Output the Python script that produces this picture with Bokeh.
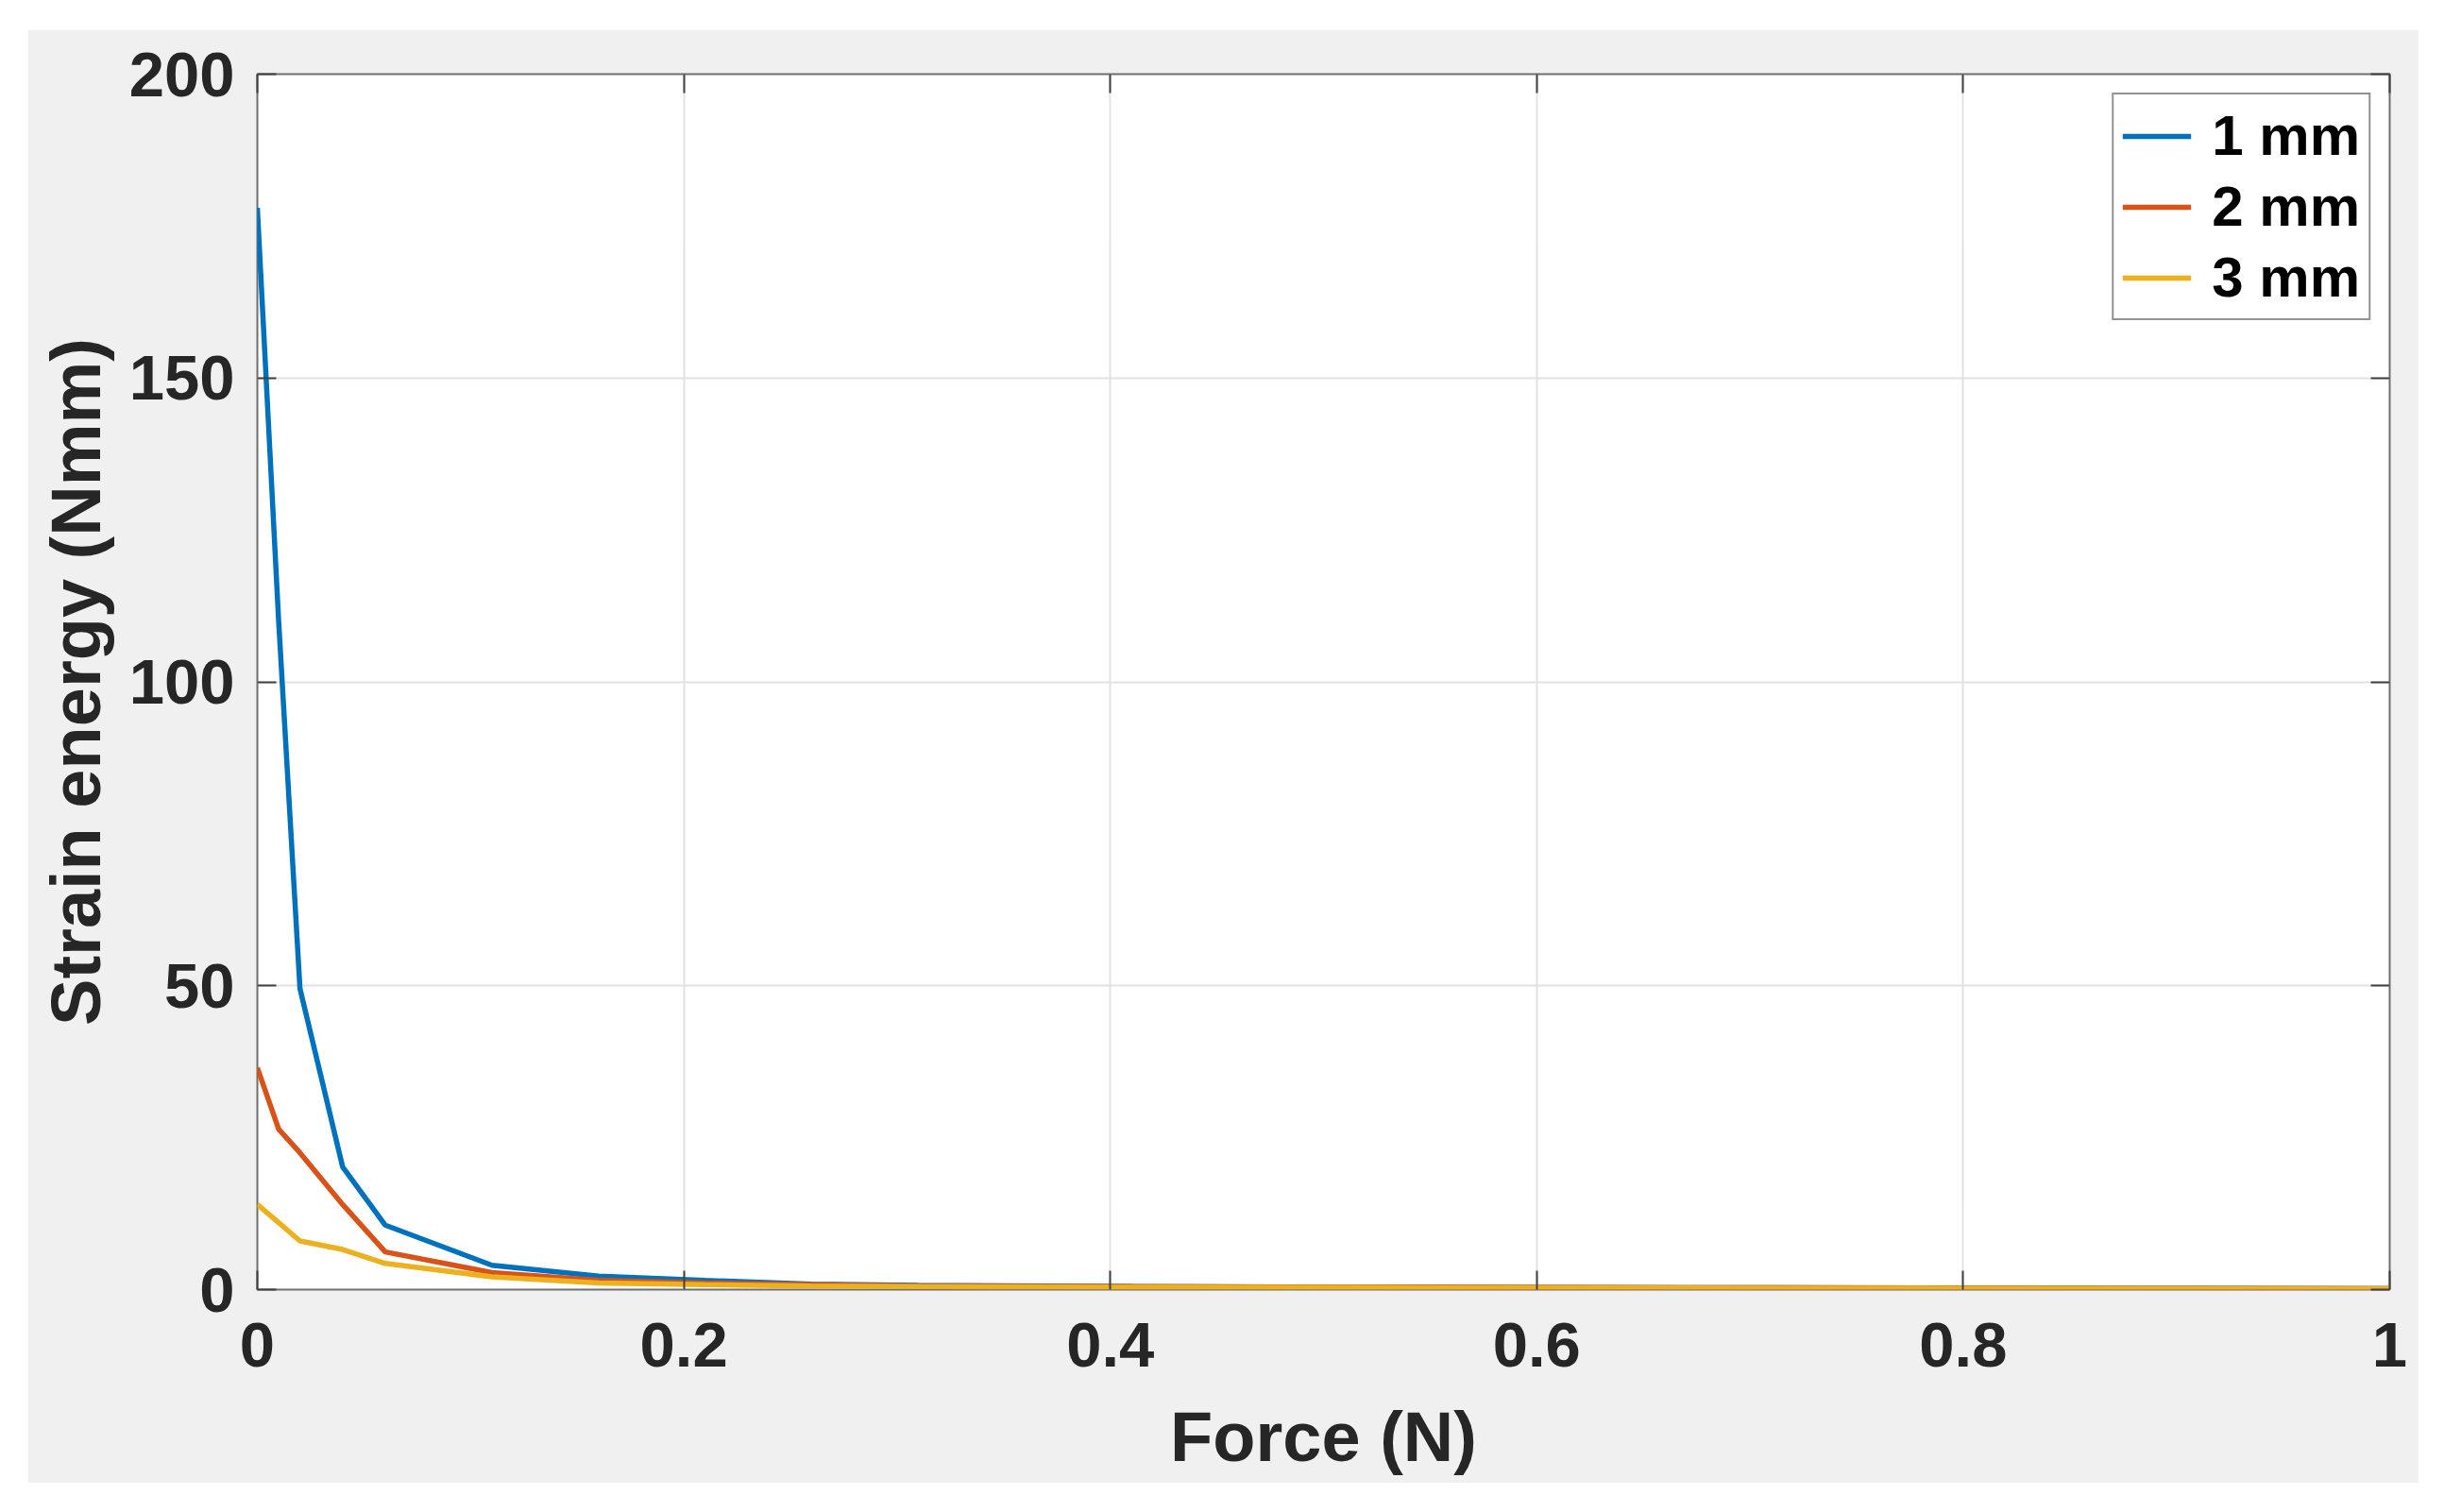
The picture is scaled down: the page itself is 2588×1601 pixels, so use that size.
from bokeh.plotting import figure
from bokeh.models import Range1d, FixedTicker, LinearAxis, Legend, LegendItem, NumeralTickFormatter, CustomJSTickFormatter
from bokeh.embed import file_html
from bokeh.resources import INLINE

# ---- data ----
force = [0, 0.01, 0.02, 0.04, 0.06, 0.11, 0.16, 0.21, 0.26, 0.31, 0.41, 0.51, 0.61, 0.71, 0.81, 0.91, 1.0]
energy_1mm = [178, 110, 49.5, 20.2, 10.6, 4.0, 2.2, 1.5, 0.9, 0.7, 0.5, 0.4, 0.35, 0.3, 0.25, 0.2, 0.15]
energy_2mm = [36.5, 26.4, 22.5, 14.0, 6.2, 2.8, 1.5, 1.1, 0.8, 0.6, 0.5, 0.4, 0.35, 0.3, 0.25, 0.2, 0.15]
energy_3mm = [14.0, 11.0, 8.0, 6.6, 4.3, 2.1, 1.1, 0.8, 0.6, 0.5, 0.4, 0.35, 0.3, 0.25, 0.2, 0.15, 0.1]
series_labels = ["1 mm", "2 mm", "3 mm"]
series_colors = ["#0072BD", "#D95319", "#EDB120"]
x_ticks = [0, 0.2, 0.4, 0.6, 0.8, 1.0]
y_ticks = [0, 50, 100, 150, 200]

FONT = "Liberation Sans"
TXT = "#262626"
AXC = "#6e6e6e"
TICKC = "#404040"

p = figure(width=2532, height=1539, output_backend="svg", toolbar_location=None,
           x_range=Range1d(0, 1), y_range=Range1d(0, 200),
           margin=(31, 0, 0, 29),
           min_border_left=243, min_border_right=31, min_border_top=47, min_border_bottom=205)

p.background_fill_color = "white"
p.border_fill_color = "#f0f0f0"
p.outline_line_color = AXC
p.outline_line_width = 2

renderers = []
for ys, c in zip([energy_1mm, energy_2mm, energy_3mm], series_colors):
    r = p.line(force, ys, line_color=c, line_width=5.5)
    renderers.append(r)

# axes
p.xaxis.ticker = FixedTicker(ticks=x_ticks)
p.yaxis.ticker = FixedTicker(ticks=y_ticks)
p.xgrid.ticker = FixedTicker(ticks=x_ticks)
p.ygrid.ticker = FixedTicker(ticks=y_ticks)
p.xaxis.formatter = NumeralTickFormatter(format="0.[0]")
p.xaxis.axis_label = "Force (N)"
p.yaxis.axis_label = "Strain energy (Nmm)"

for ax in [p.xaxis[0], p.yaxis[0]]:
    ax.axis_line_color = None
    ax.major_tick_in = 20
    ax.major_tick_out = 0
    ax.major_tick_line_color = TICKC
    ax.major_tick_line_width = 2
    ax.minor_tick_line_color = None
    ax.major_label_text_font = FONT
    ax.major_label_text_font_style = "bold"
    ax.major_label_text_font_size = "67px"
    ax.major_label_text_color = TXT
    ax.axis_label_text_font = FONT
    ax.axis_label_text_font_style = "bold"
    ax.axis_label_text_font_size = "74px"
    ax.axis_label_text_color = TXT

p.xaxis.major_label_standoff = 35
p.xaxis.axis_label_standoff = 30
p.yaxis.major_label_standoff = 24
p.yaxis.axis_label_standoff = 12

for loc, tk in [("right", y_ticks), ("above", x_ticks)]:
    ax = LinearAxis(ticker=FixedTicker(ticks=tk), formatter=CustomJSTickFormatter(code="return ''"))
    ax.axis_line_color = None
    ax.major_tick_in = 20
    ax.major_tick_out = 0
    ax.major_tick_line_color = TICKC
    ax.major_tick_line_width = 2
    ax.minor_tick_line_color = None
    ax.major_label_standoff = 0
    p.add_layout(ax, loc)

p.xgrid.grid_line_color = "#e2e2e2"
p.ygrid.grid_line_color = "#e2e2e2"
p.xgrid.grid_line_width = 2
p.ygrid.grid_line_width = 2

legend = Legend(items=[LegendItem(label=l, renderers=[r]) for l, r in zip(series_labels, renderers)],
                location="top_right")
legend.label_text_font = FONT
legend.label_text_font_style = "bold"
legend.label_text_font_size = "60px"
legend.label_text_color = "black"
legend.glyph_width = 73
legend.glyph_height = 60
legend.label_height = 60
legend.label_standoff = 22
legend.padding = 9
legend.spacing = 6
legend.margin = 20
legend.border_line_color = "#262626"
legend.border_line_width = 2
legend.background_fill_color = "white"
legend.background_fill_alpha = 1
p.add_layout(legend)

open("out.html", "w").write(file_html(p, INLINE))
